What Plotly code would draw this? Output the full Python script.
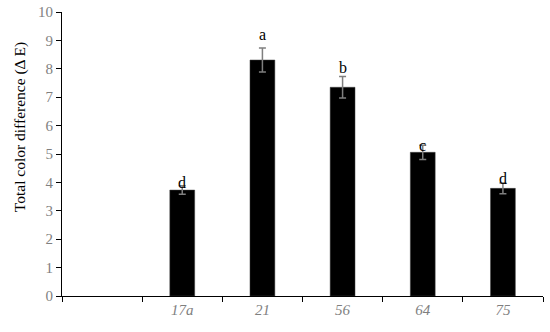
import plotly.graph_objects as go

categories = ["blank", "17a", "21", "56", "64", "75"]
tick_labels = ["", "17a", "21", "56", "64", "75"]
delta_e = [None, 3.73, 8.31, 7.35, 5.06, 3.79]
delta_e_err = [None, 0.15, 0.42, 0.38, 0.25, 0.19]
letters = ["", "d", "a", "b", "c", "d"]
letter_y = [None, 4.0, 9.2, 8.06, 5.3, 4.15]

FONT = "Liberation Serif, DejaVu Serif, serif"
GREY = "#7f7f7f"

fig = go.Figure()

fig.add_trace(go.Bar(
    x=categories,
    y=delta_e,
    marker=dict(color="black", line=dict(color="#404040", width=0.5)),
    error_y=dict(type="data", array=delta_e_err, color=GREY, thickness=1.5, width=3.5),
    showlegend=False,
))

# category names like "21" would be read as numbers, so place letters by index
for i, (lab, ly) in enumerate(zip(letters, letter_y)):
    if lab:
        fig.add_annotation(x=i, y=ly, xref="x", yref="y", text=lab, showarrow=False,
                           font=dict(family=FONT, size=16, color="black"))

# y title as an annotation: in the reference it sits above the axis centre
fig.add_annotation(x=-0.087, y=0.595, xref="paper", yref="paper",
                   xanchor="center", yanchor="middle",
                   text="Total color difference (Δ E)", textangle=-90, showarrow=False,
                   font=dict(family=FONT, size=15.5, color="black"))

fig.update_layout(
    width=550,
    height=332,
    margin=dict(l=62, r=7, t=12, b=36),
    plot_bgcolor="white",
    paper_bgcolor="white",
    bargap=0.69,
    font=dict(family=FONT),
)

fig.update_xaxes(
    type="category",
    categoryorder="array",
    categoryarray=categories,
    tickvals=categories,
    ticktext=tick_labels,
    tickangle=0,
    range=[-0.5, len(categories) - 0.5],
    automargin=False,
    showline=True, linecolor="black", linewidth=1,
    ticks="outside", tickson="boundaries", ticklen=5, tickcolor="black",
    tickfont=dict(family=FONT, size=15, color=GREY, style="italic"),
    showgrid=False,
)

fig.update_yaxes(
    range=[0, 10],
    dtick=1,
    automargin=False,
    showline=True, linecolor="black", linewidth=1,
    ticks="outside", ticklen=5, tickcolor="black",
    tickfont=dict(family=FONT, size=15, color=GREY),
    showgrid=False, zeroline=False,
)

# drop the default 8px body margin so the figure fills the window
fig.write_html("out.html", config={"displayModeBar": False},
               post_script="document.body.style.margin='0';")
